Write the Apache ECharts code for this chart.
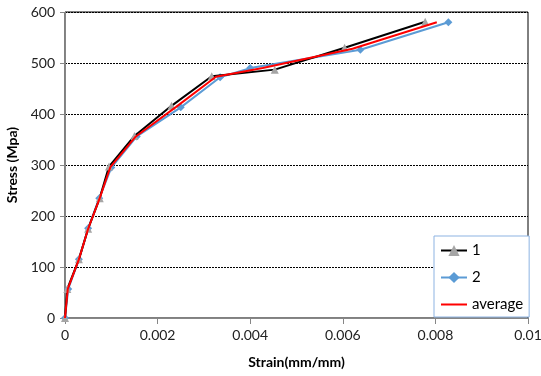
<!DOCTYPE html>
<html>
<head>
<meta charset="utf-8">
<script src="https://cdn.jsdelivr.net/npm/echarts@6/dist/echarts.min.js"></script>
<style>
  html, body { margin: 0; padding: 0; background: #fff; }
  #chart { width: 541px; height: 376px; }
</style>
</head>
<body>
<div id="chart"></div>
<script>
var dom = document.getElementById("chart");
var myChart = echarts.init(dom);

// specimen 1
var strain1 = [0, 0.00005, 0.0003, 0.0005, 0.00075, 0.00095, 0.0015, 0.0023, 0.00317, 0.00453, 0.00604, 0.00778];
var stress1 = [0, 57, 115, 175, 235, 297, 357, 416, 474, 487, 530, 581];
// specimen 2
var strain2 = [0, 0.00007, 0.0003, 0.0005, 0.00074, 0.001, 0.00155, 0.0025, 0.00335, 0.004, 0.00638, 0.00828];
var stress2 = [0, 57, 115, 176, 235, 295, 356, 413, 472, 490, 526, 580];
// average
var strainAvg = [0, 0.00006, 0.0003, 0.0005, 0.00075, 0.00098, 0.00153, 0.0024, 0.00326, 0.00427, 0.00621, 0.00803];
var stressAvg = [0, 57, 115, 175, 235, 296, 356, 414, 473, 490, 528, 580];

var xTicks = [0, 0.002, 0.004, 0.006, 0.008, 0.01];

function pairs(xs, ys) {
    return xs.map(function (x, i) { return [x, ys[i]]; });
}

var font = 'Lato';
// plain line for the legend of the average (bounds kept by two empty subpaths)
var lineIcon = 'path://M0,0L0.01,0Z M0,6L26,6L26,8L0,8Z M0,14L0.01,14Z';

option = {
    animation: false,
    textStyle: { fontFamily: font },
    grid: {
        left: 65,
        right: 13,
        top: 12,
        bottom: 58,
        containLabel: false,
        outerBoundsMode: 'none',
        show: true,
        borderColor: '#000',
        borderWidth: 1
    },
    legend: {
        orient: 'vertical',
        left: 434,
        top: 236,
        width: 80,
        padding: [7, 6, 5, 6],
        itemGap: 12,
        itemWidth: 26,
        itemHeight: 14,
        backgroundColor: '#fff',
        borderColor: '#8db3e2',
        borderWidth: 1,
        borderRadius: 0,
        textStyle: { fontFamily: font, fontSize: 15, color: '#000' },
        data: ['1', '2', { name: 'average', icon: lineIcon }]
    },
    xAxis: {
        type: 'value',
        min: 0,
        max: 0.01,
        interval: 0.002,
        name: 'Strain(mm/mm)',
        nameLocation: 'middle',
        nameGap: 37,
        nameTextStyle: { fontFamily: font, fontWeight: 'bold', fontSize: 14, color: '#000' },
        axisLine: { lineStyle: { color: '#868686' } },
        axisTick: { show: true, length: 6, lineStyle: { color: '#868686' } },
        axisLabel: {
            fontFamily: font, fontSize: 14, color: '#222', margin: 10,
            formatter: function (v) {
                for (var i = 0; i < xTicks.length; i++) {
                    if (Math.abs(xTicks[i] - v) < 1e-9) return String(xTicks[i]);
                }
                return '';
            }
        },
        splitLine: { show: false }
    },
    yAxis: {
        type: 'value',
        min: 0,
        max: 600,
        interval: 100,
        name: 'Stress (Mpa)',
        nameLocation: 'middle',
        nameGap: 38,
        nameTextStyle: { fontFamily: font, fontWeight: 'bold', fontSize: 14, color: '#000' },
        axisLine: { show: true, lineStyle: { color: '#868686' } },
        axisTick: { show: true, length: 5, lineStyle: { color: '#868686' } },
        axisLabel: { fontFamily: font, fontSize: 14, color: '#222', margin: 10 },
        splitLine: { show: true, lineStyle: { color: '#000', type: [2, 1], width: 1 } }
    },
    series: [
        {
            name: '2',
            type: 'line',
            data: pairs(strain2, stress2),
            symbol: 'diamond',
            symbolSize: 8,
            lineStyle: { color: '#5b9bd5', width: 2 },
            itemStyle: { color: '#5b9bd5' },
            z: 2
        },
        {
            name: '1',
            type: 'line',
            data: pairs(strain1, stress1),
            symbol: 'triangle',
            symbolSize: 8,
            lineStyle: { color: '#000', width: 2 },
            itemStyle: { color: '#a5a5a5' },
            z: 3
        },
        {
            name: 'average',
            type: 'line',
            data: pairs(strainAvg, stressAvg),
            symbol: 'none',
            lineStyle: { color: '#ff0000', width: 2 },
            itemStyle: { color: '#ff0000' },
            z: 4
        }
    ]
};

myChart.setOption(option, true);
</script>
</body>
</html>
